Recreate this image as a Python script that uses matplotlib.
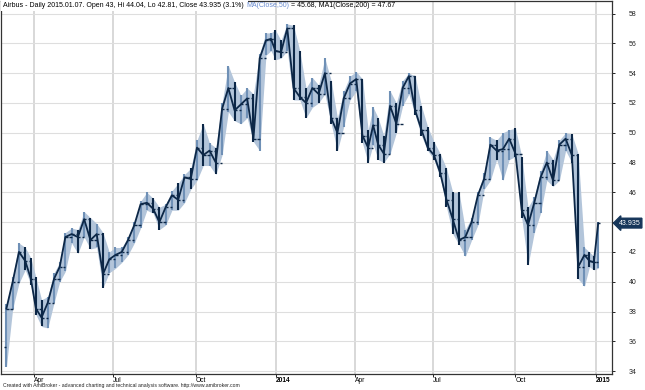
import numpy as np
import pandas as pd
import matplotlib
matplotlib.use("Agg")
import matplotlib.pyplot as plt
import matplotlib.transforms as mtransforms

plt.rcParams['font.family'] = ['Liberation Sans', 'DejaVu Sans']

# weekly bars, weeks starting Monday 2013-02-25
first_monday = "2013-02-25"
open0 = 35.6
week_hi = [38.5, 40.3, 42.6, 42.3, 41.6, 40.3, 38.8, 39.0, 40.6, 41.3,
           43.3, 43.6, 43.5, 44.7, 44.3, 43.9, 43.3, 42.0, 42.3, 42.3,
           43.0, 44.0, 45.4, 46.0, 45.6, 45.0, 45.2, 46.1, 46.6, 47.2,
           47.6, 49.5, 50.6, 49.3, 49.0, 52.0, 54.5, 53.4, 52.5, 53.0,
           52.6, 55.3, 56.7, 56.7, 56.9, 56.2, 57.3, 57.2, 55.5, 53.0,
           53.7, 53.2, 55.0, 53.5, 51.0, 52.8, 53.8, 54.1, 53.6, 50.2,
           51.7, 51.0, 49.8, 52.8, 52.0, 53.5, 54.0, 53.8, 51.8, 50.4,
           49.4, 48.6, 47.6, 46.0, 46.0, 43.5, 44.3, 46.0, 47.3, 49.7,
           49.5, 50.0, 50.2, 50.3, 48.4, 45.0, 45.7, 47.4, 48.8, 48.2,
           49.5, 50.0, 49.9, 48.6, 42.3, 42.0, 41.7, 44.04]
week_lo = [34.3, 38.2, 39.9, 40.8, 39.8, 37.8, 37.0, 36.9, 38.6, 40.0,
           40.7, 42.6, 41.9, 43.0, 42.2, 42.3, 39.6, 40.6, 40.9, 41.3,
           41.8, 42.6, 43.6, 44.8, 44.6, 43.5, 43.8, 44.8, 44.8, 45.3,
           46.2, 46.8, 47.8, 47.8, 47.2, 48.5, 51.4, 50.8, 50.6, 51.0,
           49.4, 48.8, 55.2, 55.5, 54.9, 55.0, 55.5, 52.2, 52.2, 51.0,
           51.7, 52.0, 52.6, 50.6, 48.8, 50.4, 52.2, 52.8, 49.3, 48.0,
           49.2, 48.2, 48.0, 48.6, 50.0, 51.8, 52.6, 51.2, 49.8, 48.8,
           48.2, 47.0, 45.0, 43.2, 42.5, 41.7, 42.8, 43.8, 46.2, 46.8,
           48.2, 46.8, 48.2, 48.4, 44.3, 41.1, 43.3, 44.6, 46.8, 46.4,
           46.8, 48.8, 48.0, 40.2, 39.7, 41.0, 40.8, 40.9]
week_cl = [38.2, 40.0, 42.0, 41.4, 40.2, 38.2, 37.6, 38.6, 40.2, 41.0,
           43.0, 43.2, 43.0, 44.2, 42.8, 43.2, 40.5, 41.5, 41.8, 42.0,
           42.8, 43.8, 45.2, 45.3, 44.9, 44.0, 45.0, 45.8, 45.5, 47.0,
           46.9, 49.0, 48.5, 48.8, 48.0, 51.6, 53.0, 51.5, 51.9, 52.3,
           49.6, 55.0, 56.2, 56.3, 55.5, 55.4, 57.0, 53.0, 52.4, 52.0,
           53.0, 52.6, 54.0, 51.0, 50.0, 52.3, 53.3, 53.6, 49.8, 49.0,
           50.5, 49.2, 48.6, 51.8, 50.6, 53.0, 53.8, 51.5, 50.2, 49.0,
           48.5, 47.3, 45.5, 44.2, 42.8, 43.0, 44.0, 45.8, 46.9, 49.2,
           48.8, 48.9, 49.6, 48.6, 44.8, 43.8, 45.3, 47.0, 48.0, 46.8,
           49.2, 49.6, 48.5, 41.0, 41.8, 41.4, 41.3, 43.935]

holidays = ["2013-03-29", "2013-04-01", "2013-05-01", "2013-12-25", "2013-12-26",
            "2014-01-01", "2014-04-18", "2014-04-21", "2014-05-01", "2014-12-25",
            "2014-12-26", "2015-01-01"]
tick_dates = ["2013-04-01", "2013-07-01", "2013-10-01", "2014-01-01",
              "2014-04-01", "2014-07-01", "2014-10-01", "2015-01-01"]
tick_labels = ["Apr", "Jul", "Oct", "2014", "Apr", "Jul", "Oct", "2015"]
price_ticks = list(range(34, 59, 2))

title_a = "Airbus - Daily 2015.01.07. Open 43, Hi 44.04, Lo 42.81, Close 43.935 (3.1%) "
title_b = "MA(Close,50)"
title_c = " = 45.68, MA1(Close,200) = 47.67"
footer = ("Created with AmiBroker - advanced charting and technical analysis "
          "software. http://www.amibroker.com")

# trading day index (AmiBroker spaces bars evenly)
days = pd.bdate_range(first_monday, "2015-01-07")
days = days[~days.isin(pd.to_datetime(holidays))]
bar = np.arange(len(days))
week_no = (days - pd.Timestamp(first_monday)).days // 7
wx = pd.Series(bar).groupby(np.asarray(week_no)).mean().values

hi = np.array(week_hi)
lo = np.array(week_lo)
cl = np.array(week_cl)
op = np.r_[open0, cl[:-1]]
up = cl >= op
navy = "#0c2747"
light = "#6f90b6"
cols = np.where(up, light, navy)

fig = plt.figure(figsize=(6.45, 3.9), dpi=100)
ax = fig.add_axes([1 / 645, 16 / 390, 611 / 645, 373 / 390])

ticks = [bar[days >= pd.Timestamp(d)][0] for d in tick_dates]
for t in ticks:
    ax.axvline(t, color="#d2d2d2", lw=1.2, zorder=0)
for v in price_ticks:
    ax.axhline(v, color="#dedede", lw=0.8, zorder=0)

# envelope of the daily bars, then weekly bars on top
ax.fill_between(wx, lo, hi, color="#b3c5da", lw=0, zorder=2)
ax.vlines(wx, lo, hi, colors=cols, lw=1.5, zorder=3)
ax.hlines(op, wx - 1.8, wx, colors=navy, lw=1.0, zorder=3)
ax.hlines(cl, wx, wx + 1.8, colors=navy, lw=1.0, zorder=3)
ax.plot(wx, cl, color=navy, lw=1.3, zorder=4)

# x scale: Apr 2013 gridline at px 34, Jan 2015 gridline at px 595.7
scale = (595.7 - 34) / (ticks[-1] - ticks[0])
ax.set_xlim(ticks[0] - 33 / scale, ticks[0] + 578 / scale)
ax.set_ylim(33.81, 58.84)

ax.set_xticks(ticks)
ax.set_xticklabels(tick_labels)
for lab in ax.get_xticklabels():
    lab.set_ha("left")
    lab.set_fontsize(4.8)
    if lab.get_text() in ("2014", "2015"):
        lab.set_fontweight("bold")
ax.tick_params(axis="x", direction="out", length=2, pad=0.5, width=0.6)

# the last-price box takes the place of the 44 label
ax.yaxis.tick_right()
ax.set_yticks(price_ticks)
ax.set_yticklabels(["" if v == 44 else str(v) for v in price_ticks])
ax.tick_params(axis="y", direction="out", length=2, pad=10, width=0.6,
               labelsize=5, labelcolor="#222222")
for s in ax.spines.values():
    s.set_linewidth(0.9)
    s.set_color("#333333")

t1 = ax.text(0.004, 0.997, title_a, transform=ax.transAxes, fontsize=5,
             va="top", ha="left", zorder=5,
             bbox=dict(fc="white", ec="none", pad=1.5))
t2 = ax.annotate(title_b, xy=(1, 0), xycoords=t1, va="bottom", fontsize=5,
                 color="#6a8cd0", zorder=5)
ax.annotate(title_c, xy=(1, 0), xycoords=t2, va="bottom", fontsize=5,
            zorder=5)

trans = mtransforms.blended_transform_factory(ax.transAxes, ax.transData)
ax.text(1.011, cl[-1], f"{cl[-1]:.3f}", transform=trans, fontsize=5,
        color="white", va="center", ha="left", clip_on=False,
        bbox=dict(boxstyle="larrow,pad=0.2", fc="#16365a", ec="#16365a"))

fig.text(3 / 645, 1 - 386 / 390, footer, fontsize=3.7, va="center",
         ha="left", color="#222222")

fig.savefig("out.png", dpi=100)
